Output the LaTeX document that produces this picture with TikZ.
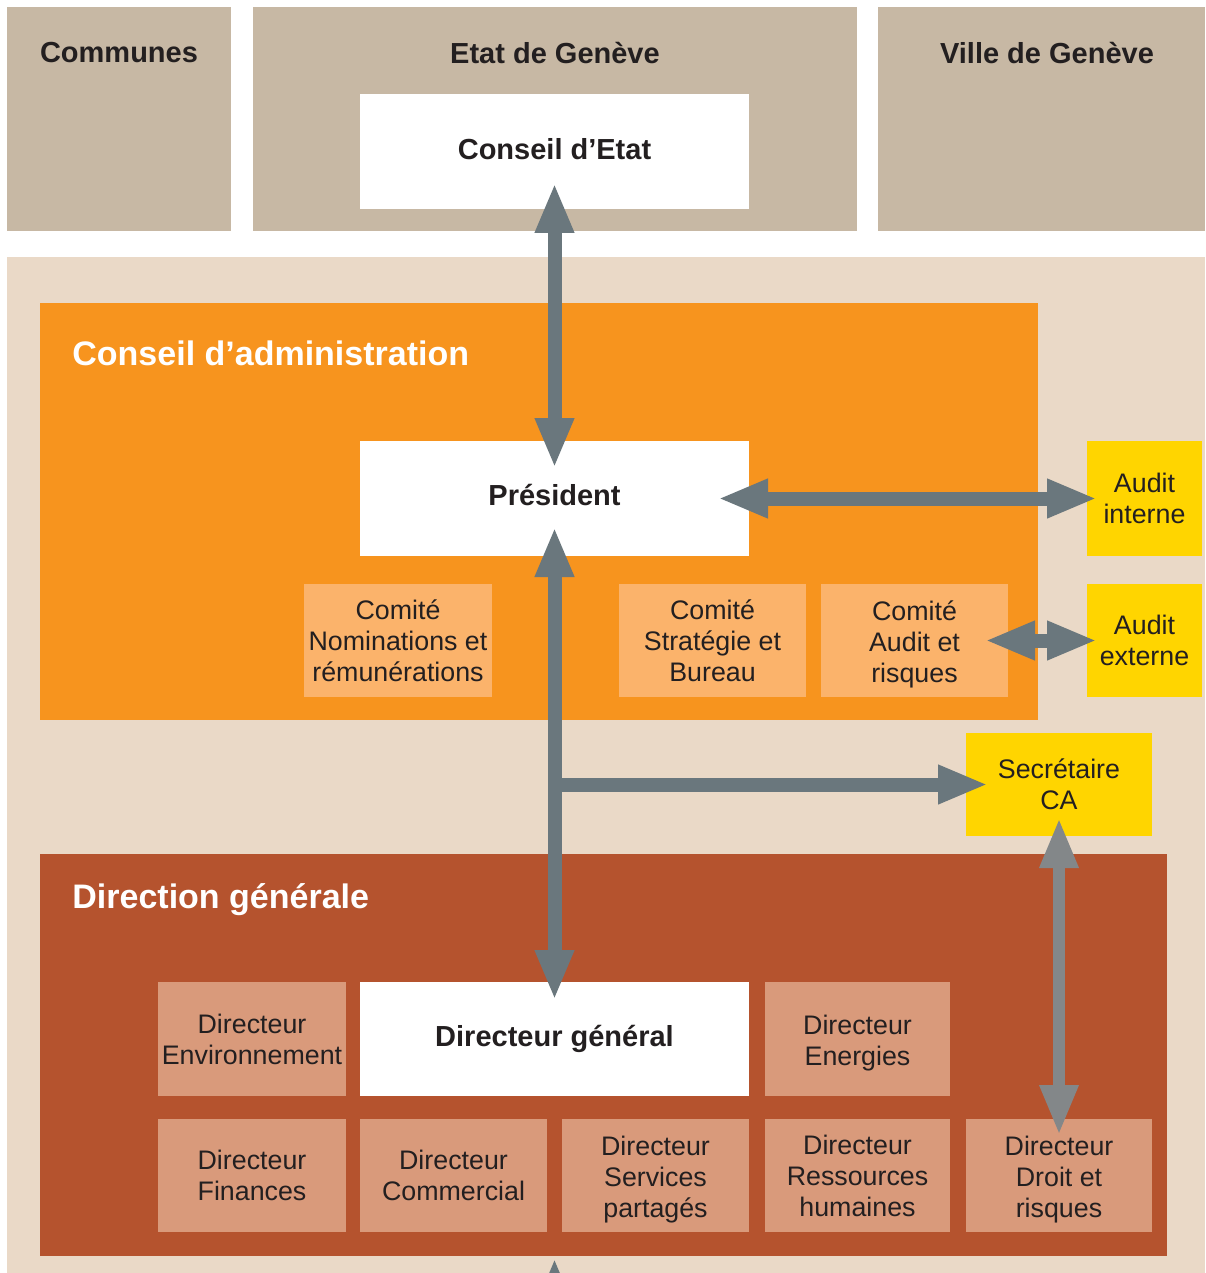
\documentclass[tikz,border=0pt]{standalone}
\usepackage{fontspec}
\setmainfont{Liberation Sans}
\usetikzlibrary{arrows.meta,fit,calc}
\definecolor{tan}{HTML}{C7B8A4}
\definecolor{beige}{HTML}{EAD9C7}
\definecolor{orangeca}{HTML}{F7941E}
\definecolor{comite}{HTML}{FBB36B}
\definecolor{yel}{HTML}{FFD500}
\definecolor{rust}{HTML}{B5532E}
\definecolor{dirc}{HTML}{D99A7B}
\definecolor{arrowc}{HTML}{6A777D}
\definecolor{arrowd}{HTML}{838789}
\definecolor{txt}{HTML}{231F20}
\begin{document}
\begin{tikzpicture}[x=0.5pt,y=-0.5pt,
  shape box/.style={inner sep=0pt, outer sep=0pt},
  box/.style={inner sep=0pt, outer sep=0pt, align=center, text=txt,
    font=\fontsize{13.4}{15.5}\selectfont},
  descbox/.style={box, yshift=-1.8pt},
  headbox/.style={box, font=\fontsize{14.5}{17}\selectfont\bfseries},
  bigtitle/.style={inner sep=0pt, anchor=west, text=white,
    font=\fontsize{17}{20}\selectfont\bfseries},
  toptitle/.style={inner sep=0pt, text=txt, font=\fontsize{14.5}{17}\selectfont\bfseries},
  tipshape/.tip={Triangle[length=25pt,width=18pt]},
  garrow/.style={draw=arrowc, line width=7pt, tipshape-tipshape},
  garrowone/.style={draw=arrowc, line width=7pt, -tipshape},
  darrow/.style={draw=arrowd, line width=6pt, tipshape-tipshape}]
\useasboundingbox (0,0) rectangle (1205,1273);
\clip (0,0) rectangle (1205,1273);
% top row
\node[shape box, fill=tan, fit={(7,7)(231,231)}] (communes) {};
\node[shape box, fill=tan, fit={(253,7)(857,231)}] (etat) {};
\node[shape box, fill=tan, fit={(878,7)(1205,231)}] (ville) {};
\node[toptitle] (tcom) at (119,53) {Communes};
\node[toptitle] (tetat) at (555,53) {Etat de Genève};
\node[toptitle] (tville) at (1047,53) {Ville de Genève};
\node[shape box, fill=white, fit={(360,94)(749,209)}] (ce) {};
\node[headbox] (tce) at ($(ce.center)+(0,-2)$) {Conseil d’Etat};
% background
\node[shape box, fill=beige, fit={(7,257)(1205,1273)}] (bg) {};
% Conseil d'administration
\node[shape box, fill=orangeca, fit={(40,303)(1038,720)}] (ca) {};
\node[bigtitle] (tca) at (72,353) {Conseil d’administration};
\node[shape box, fill=white, fit={(360,441)(749,556)}] (pres) {};
\node[headbox] (tpres) at ($(pres.center)+(0,-3)$) {Président};
\node[shape box, fill=comite, fit={(304,584)(492,697)}] (cnr) {};
\node[box] (tcnr) at (cnr.center) {Comité\\Nominations et\\rémunérations};
\node[shape box, fill=comite, fit={(619,584)(806,697)}] (csb) {};
\node[box] (tcsb) at (csb.center) {Comité\\Stratégie et\\Bureau};
\node[shape box, fill=comite, fit={(821,584)(1008,697)}] (cai) {};
\node[descbox] (tcai) at (cai.center) {Comité\\Audit et\\risques};
\node[shape box, fill=yel, fit={(1087,441)(1202,556)}] (ai) {};
\node[box] (tai) at (ai.center) {Audit\\interne};
\node[shape box, fill=yel, fit={(1087,584)(1202,697)}] (ae) {};
\node[box] (tae) at (ae.center) {Audit\\externe};
\node[shape box, fill=yel, fit={(966,733)(1152,836)}] (sec) {};
\node[box] (tsec) at (sec.center) {Secrétaire\\CA};
% Direction generale
\node[shape box, fill=rust, fit={(40,854)(1167,1256)}] (dgen) {};
\node[bigtitle] (tdg) at (72,900) {Direction générale};
\node[shape box, fill=dirc, fit={(158,982)(346,1096)}] (denv) {};
\node[box] (tdenv) at (denv.center) {Directeur\\Environnement};
\node[shape box, fill=white, fit={(360,982)(749,1096)}] (dg) {};
\node[headbox] (tdgx) at (dg.center) {Directeur général};
\node[shape box, fill=dirc, fit={(765,982)(950,1096)}] (dene) {};
\node[descbox] (tdene) at (dene.center) {Directeur\\Energies};
\node[shape box, fill=dirc, fit={(158,1119)(346,1232)}] (dfin) {};
\node[box] (tdfin) at (dfin.center) {Directeur\\Finances};
\node[shape box, fill=dirc, fit={(360,1119)(547,1232)}] (dcom) {};
\node[box] (tdcom) at (dcom.center) {Directeur\\Commercial};
\node[shape box, fill=dirc, fit={(562,1119)(749,1232)}] (dsp) {};
\node[descbox] (tdsp) at (dsp.center) {Directeur\\Services\\partagés};
\node[shape box, fill=dirc, fit={(765,1119)(950,1232)}] (drh) {};
\node[box] (tdrh) at (drh.center) {Directeur\\Ressources\\humaines};
\node[shape box, fill=dirc, fit={(966,1119)(1152,1232)}] (ddr) {};
\node[descbox] (tddr) at (ddr.center) {Directeur\\Droit et\\risques};
% arrows
\draw[garrow] ($(ce.south)+(0,-26)$) -- ($(pres.north)+(0,27)$);
\draw[garrow] ($(pres.south)+(0,-29)$) -- ($(dg.north)+(0,18)$);
\coordinate (br) at (pres.south |- sec.west);
\draw[garrowone] (br) -- ($(sec.west)+(22,0)$);
\draw[garrow] ($(pres.east)+(-31,0)$) -- ($(ai.west)+(10,0)$);
\draw[garrow] ($(cai.east)+(-23,0)$) -- ($(ae.west)+(10,0)$);
\draw[darrow] ($(sec.south)+(0,-18)$) -- ($(ddr.north)+(0,16)$);
\coordinate (bt) at ($(dgen.south -| dg.south)+(0,2)$);
\coordinate (bb) at ($(bt)+(0,80)$);
\draw[garrowone] (bb) -- (bt);
\end{tikzpicture}
\end{document}
